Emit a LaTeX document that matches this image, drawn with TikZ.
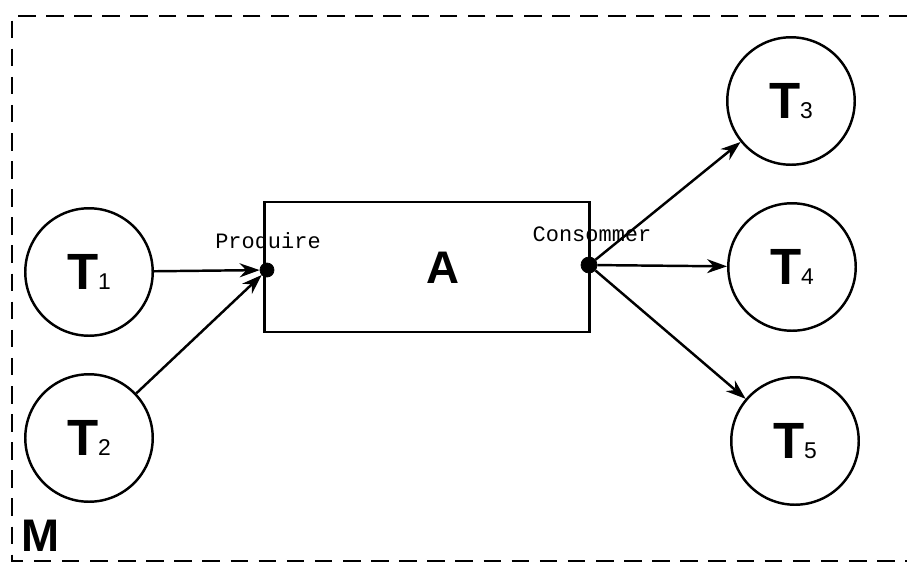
\documentclass[tikz,border=0pt]{standalone}
\usepackage{fontspec}
\setmainfont{Liberation Sans}
\setmonofont{Liberation Mono}
\usepackage{tikz}
\usetikzlibrary{arrows.meta}

% task name: big bold T with a small index
\newcommand{\tname}[1]{{\fontsize{29}{30}\selectfont\bfseries T}{\fontsize{13}{16}\selectfont #1}}

\tikzset{
  tache/.style={draw, line width=1.4pt, circle, minimum size=2.55cm, inner sep=0pt},
  port/.style={draw, fill=black, circle, inner sep=0pt},
  portlabel/.style={font=\ttfamily\fontsize{12.5}{14}\selectfont},
  flow/.style={line width=1.4pt, -{Stealth[length=0.4cm, width=0.28cm]}}
}

\begin{document}
\begin{tikzpicture}[x=0.02cm, y=-0.02cm]
\useasboundingbox (0,0) rectangle (907,565);

% module frame
\draw[line width=1.6pt, dash pattern=on 10pt off 6pt] (907,16) -- (12,16) -- (12,561) -- (907,561);
\node[font=\bfseries\fontsize{26}{27}\selectfont] (m) at (41,536) {M};

% actor A and its two ports
\node[draw, line width=1.4pt, minimum width=6.5cm, minimum height=2.6cm] (a) at (427,267) {};
\node[font=\bfseries\fontsize{26}{27}\selectfont] (alabel) at (443,268) {A};
\node[port, minimum size=0.28cm] (pp) at (267,270) {};
\node[port, minimum size=0.32cm] (pc) at (589,265) {};
\node[portlabel] (lpp) at (268,241) {Produire};
\node[portlabel] (lpc) at (592,234) {Consommer};

% tasks
\node[tache] (t1) at (89,272) {\tname{1}};
\node[tache] (t2) at (89,438) {\tname{2}};
\node[tache] (t3) at (791,101) {\tname{3}};
\node[tache] (t4) at (792,267) {\tname{4}};
\node[tache] (t5) at (795,441) {\tname{5}};

\draw[flow] (t1) -- (pp);
\draw[flow] (t2) -- (pp);
\draw[flow] (pc) -- (t3);
\draw[flow] (pc) -- (t4);
\draw[flow] (pc) -- (t5);
\end{tikzpicture}
\end{document}
